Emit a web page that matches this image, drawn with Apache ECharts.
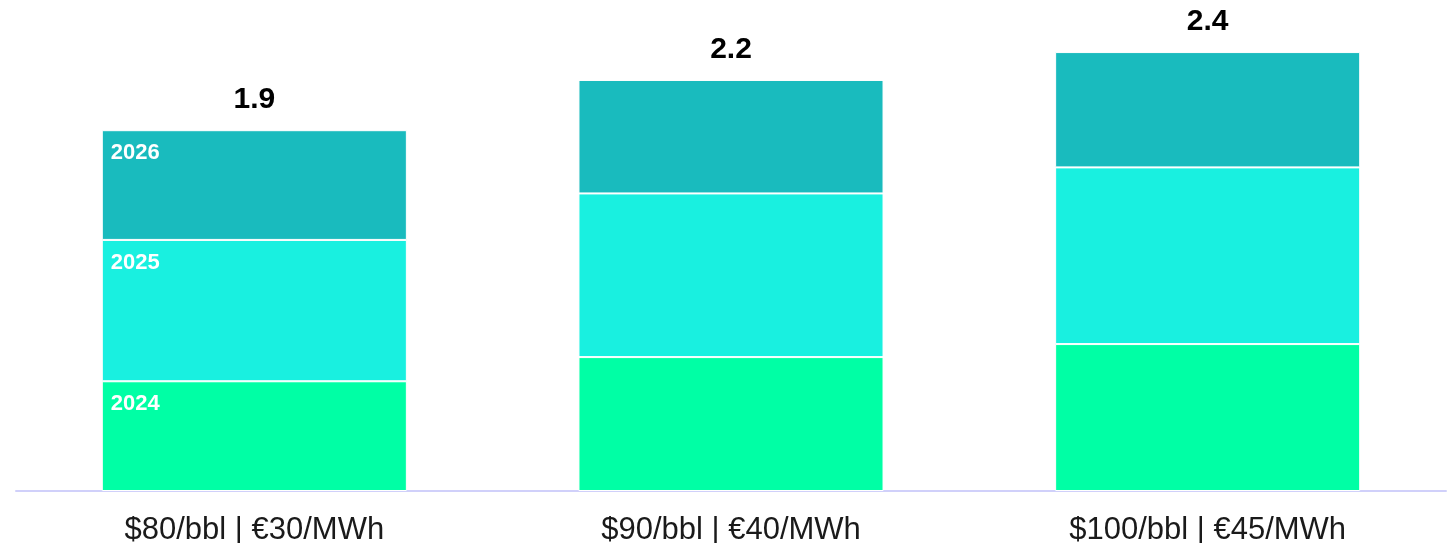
<!DOCTYPE html>
<html>
<head>
<meta charset="utf-8">
<script src="https://cdn.jsdelivr.net/npm/echarts@6/dist/echarts.min.js"></script>
<style>
  html, body { margin: 0; padding: 0; background: #fff; }
  #chart { width: 1453px; height: 543px; }
</style>
</head>
<body>
<div id="chart"></div>
<script>
const categories = ["$80/bbl | €30/MWh", "$90/bbl | €40/MWh", "$100/bbl | €45/MWh"];
const years = ["2024", "2025", "2026"];
const values2024 = [0.59, 0.72, 0.79];
const values2025 = [0.76, 0.88, 0.95];
const values2026 = [0.59, 0.61, 0.62];
const totalLabels = ["1.9", "2.2", "2.4"];

const colors = ["#00FFA5", "#19F0E0", "#19BBBE"];
const font = "Liberation Sans, Arial, sans-serif";

const segment = (name, data, color) => ({
  name: name,
  type: "bar",
  stack: "total",
  barWidth: "64%",
  data: data.map((v, i) => ({
    value: v,
    // only the first bar carries the year tag
    label: { show: i === 0 },
  })),
  itemStyle: { color: color, borderColor: "#ffffff", borderWidth: 1 },
  label: {
    position: "insideTopLeft",
    distance: 0,
    padding: [12, 0, 0, 9],
    formatter: name,
    color: "#ffffff",
    fontFamily: font,
    fontSize: 22,
    fontWeight: 600,
  },
});

const chart = echarts.init(document.getElementById("chart"));
chart.setOption({
  animation: false,
  grid: { left: 16, right: 7, top: 0, bottom: 52, outerBoundsMode: "none", containLabel: false },
  xAxis: {
    type: "category",
    data: categories,
    axisTick: { show: false },
    axisLine: { lineStyle: { color: "#d0d0fa", width: 2 } },
    axisLabel: {
      color: "#1a1a1a",
      fontFamily: font,
      fontSize: 31,
      margin: 24,
    },
  },
  yAxis: {
    type: "value",
    min: 0,
    max: 2.64,
    show: false,
    splitLine: { show: false },
  },
  series: [
    segment(years[0], values2024, colors[0]),
    segment(years[1], values2025, colors[1]),
    segment(years[2], values2026, colors[2]),
    {
      name: "total",
      type: "bar",
      stack: "total",
      barWidth: "64%",
      data: totalLabels.map(() => 0),
      itemStyle: { color: "transparent" },
      label: {
        show: true,
        position: "top",
        distance: 15,
        formatter: (p) => totalLabels[p.dataIndex],
        color: "#000000",
        fontFamily: font,
        fontSize: 30,
        fontWeight: "bold",
      },
    },
  ],
});
</script>
</body>
</html>
